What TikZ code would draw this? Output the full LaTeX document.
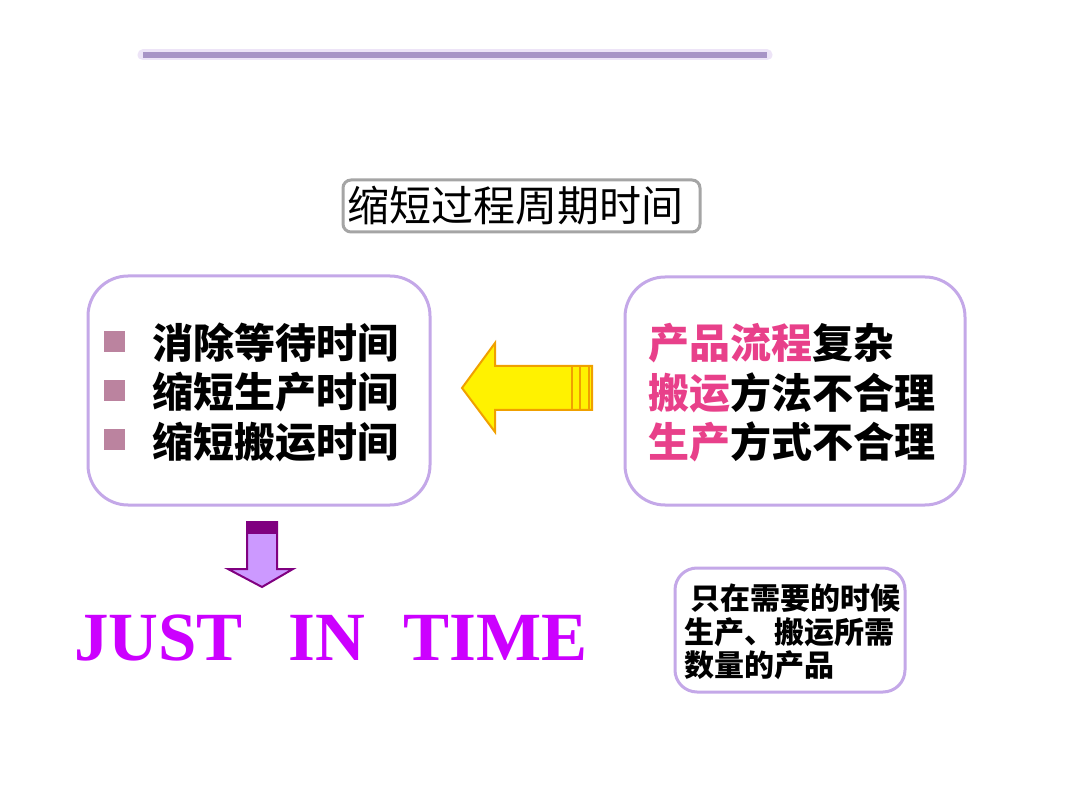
\documentclass[tikz,border=0pt]{standalone}
\usepackage{fontspec}
\newfontfamily\cjk{Noto Sans CJK SC}
\newfontfamily\jitfont{Liberation Serif}
\definecolor{lav}{RGB}{196,168,232}
\definecolor{topline}{RGB}{168,148,198}
\definecolor{titlegray}{RGB}{165,165,165}
\definecolor{mauve}{RGB}{170,100,135}
\definecolor{hotpink}{RGB}{232,64,138}
\definecolor{arrowor}{RGB}{240,160,0}
\definecolor{darkpurp}{RGB}{128,0,128}
\definecolor{lightpurp}{RGB}{204,153,255}
\definecolor{jit}{RGB}{204,0,255}
\tikzset{
  panel/.style={draw=lav, line width=3pt, rounded corners=40pt, fill=white},
  smallpanel/.style={draw=lav, line width=3pt, rounded corners=22pt, fill=white},
  titlebox/.style={draw=titlegray, line width=3pt, rounded corners=8pt},
  bigtxt/.style={anchor=west, inner sep=0pt, font=\cjk\bfseries\fontsize{41}{41}\selectfont},
  smalltxt/.style={anchor=west, inner sep=0pt, font=\cjk\bfseries\fontsize{30}{30}\selectfont},
  bulletsq/.style={fill=mauve, draw=none, minimum size=21pt, inner sep=0pt, fill opacity=0.8}
}
\begin{document}
\begin{tikzpicture}[x=1pt,y=-1pt]
\useasboundingbox[fill=white] (0,0) rectangle (1080,810);
% top line
\draw[line width=11pt, color=lav!60, opacity=0.5, line cap=round] (143,55) -- (767,55);
\draw[line width=6pt, color=topline] (143,55) -- (767,55);
% title
\draw[titlebox] (343,180) rectangle (700,232);
\node[anchor=west, inner sep=0pt, font=\cjk\fontsize{42}{42}\selectfont] (title) at (347,206) {缩短过程周期时间};
% left panel
\draw[panel] (88,276) rectangle (430,505);
\node[bulletsq] (b1) at (114,342) {};
\node[bulletsq] (b2) at (114,391) {};
\node[bulletsq] (b3) at (114,440) {};
\node[bigtxt] (l1) at (152,343) {消除等待时间};
\node[bigtxt] (l2) at (152,392) {缩短生产时间};
\node[bigtxt] (l3) at (152,442) {缩短搬运时间};
% right panel
\draw[panel] (625,277) rectangle (965,505);
\node[bigtxt] (r1) at (648,343) {\textcolor{hotpink}{产品流程}复杂};
\node[bigtxt] (r2) at (648,393) {\textcolor{hotpink}{搬运}方法不合理};
\node[bigtxt] (r3) at (648,442) {\textcolor{hotpink}{生产}方式不合理};
% yellow arrow
\draw[fill=yellow, draw=arrowor, line width=2pt, line join=miter]
  (462,388) -- (495,343) -- (495,366) -- (592,366) -- (592,410) -- (495,410) -- (495,432) -- cycle;
\draw[arrowor, line width=2.5pt] (572,366) -- (572,410);
\draw[arrowor, line width=2.5pt] (580,366) -- (580,410);
\draw[arrowor, line width=2.5pt] (589,366) -- (589,410);
% down arrow
\draw[fill=lightpurp, draw=darkpurp, line width=2pt, line join=miter]
  (247,522) -- (277,522) -- (277,569) -- (293,569) -- (262,587) -- (228,569) -- (247,569) -- cycle;
\fill[darkpurp] (247,522) rectangle (277,534);
% JIT
\node[anchor=base west, inner sep=0pt, text=jit, font=\jitfont\bfseries\fontsize{69}{69}\selectfont] (jitxt) at (74,660) {JUST\hspace{46pt}IN\hspace{38pt}TIME};
% bottom-right panel
\draw[smallpanel] (675,568) rectangle (905,692);
\node[smalltxt] (s1) at (690,598) {只在需要的时候};
\node[smalltxt] (s2) at (684,632) {生产、搬运所需};
\node[smalltxt] (s3) at (684,665) {数量的产品};
\end{tikzpicture}
\end{document}
